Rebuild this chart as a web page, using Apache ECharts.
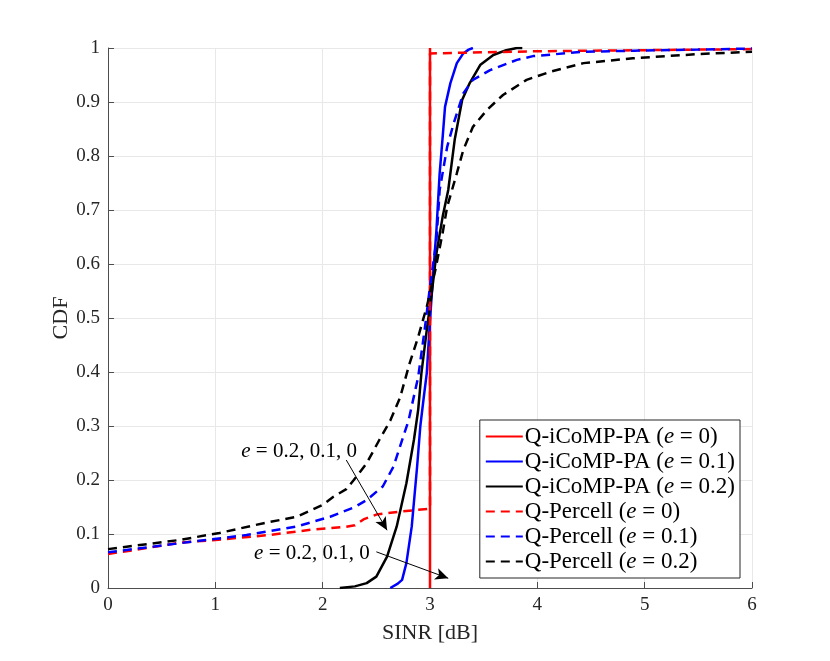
<!DOCTYPE html>
<html>
<head>
<meta charset="utf-8">
<script src="https://cdn.jsdelivr.net/npm/echarts@6/dist/echarts.min.js"></script>
<style>
  html, body { margin: 0; padding: 0; background: #fff; }
  #main { width: 830px; height: 661px; }
</style>
</head>
<body>
<div id="main"></div>
<script>
// x ticks / y ticks
const xTicks = [0, 1, 2, 3, 4, 5, 6]
const yTicks = [0, 0.1, 0.2, 0.3, 0.4, 0.5, 0.6, 0.7, 0.8, 0.9, 1]

// Q-iCoMP-PA curves [SINR dB, CDF]
const icompE0 = [[3, 0], [3, 1]]
const icompE01 = [
  [2.63, 0], [2.7, 0.008], [2.74, 0.015], [2.78, 0.046], [2.83, 0.114], [2.88, 0.225],
  [2.91, 0.3], [2.94, 0.35], [2.97, 0.398], [3.0, 0.496], [3.03, 0.583], [3.06, 0.663],
  [3.09, 0.768], [3.12, 0.84], [3.14, 0.891], [3.19, 0.935], [3.25, 0.972],
  [3.31, 0.99], [3.36, 0.997], [3.4, 1.0]
]
const icompE02 = [
  [2.16, 0], [2.3, 0.003], [2.41, 0.009], [2.5, 0.021], [2.6, 0.058], [2.69, 0.114],
  [2.78, 0.194], [2.85, 0.274], [2.89, 0.33], [2.92, 0.398], [2.97, 0.478],
  [3.02, 0.552], [3.06, 0.62], [3.12, 0.69], [3.17, 0.737], [3.23, 0.83],
  [3.3, 0.904], [3.37, 0.935], [3.47, 0.969], [3.59, 0.987], [3.71, 0.996],
  [3.81, 1.0], [3.86, 1.0]
]

// Q-Percell curves
const percellE0 = [
  [0, 0.063], [0.3, 0.072], [0.67, 0.084], [1.0, 0.089], [1.5, 0.098], [1.9, 0.108],
  [2.2, 0.113], [2.3, 0.116], [2.38, 0.127], [2.5, 0.136], [2.7, 0.141], [3.0, 0.147],
  [3.0, 0.99], [4.0, 0.994], [5.0, 0.996], [6.0, 0.998]
]
const percellE01 = [
  [0, 0.066], [0.67, 0.083], [1.29, 0.098], [1.76, 0.114], [2.07, 0.132], [2.3, 0.15],
  [2.41, 0.163], [2.56, 0.188], [2.66, 0.225], [2.75, 0.28], [2.8, 0.31], [2.89, 0.391],
  [2.95, 0.478], [3.0, 0.558], [3.06, 0.644], [3.09, 0.737], [3.16, 0.817],
  [3.22, 0.86], [3.31, 0.916], [3.4, 0.941], [3.56, 0.959], [3.81, 0.978],
  [3.96, 0.985], [4.43, 0.993], [4.9, 0.995], [5.5, 0.997], [6.0, 0.999]
]
const percellE02 = [
  [0, 0.072], [0.67, 0.089], [1.04, 0.102], [1.45, 0.12], [1.76, 0.132], [2.0, 0.154],
  [2.1, 0.169], [2.22, 0.183], [2.29, 0.2], [2.41, 0.231], [2.53, 0.275], [2.63, 0.31],
  [2.72, 0.352], [2.81, 0.416], [2.89, 0.465], [2.97, 0.521], [3.05, 0.589],
  [3.12, 0.66], [3.16, 0.706], [3.25, 0.768], [3.31, 0.811], [3.4, 0.854],
  [3.53, 0.885], [3.68, 0.913], [3.9, 0.941], [4.12, 0.956], [4.43, 0.972],
  [4.89, 0.981], [5.52, 0.989], [6.0, 0.993]
]

// annotation arrows (data coords) and text anchors
const arrow1 = [[2.22, 0.237], [2.6, 0.107]]
const arrow2 = [[2.5, 0.067], [3.17, 0.018]]
const note1 = [1.78, 0.252]
const note2 = [1.9, 0.063]

const serif = 'Liberation Serif'
const legendRich = {
  n: { fontFamily: serif, fontSize: 23, lineHeight: 23, color: '#000' },
  i: { fontFamily: serif, fontSize: 23, lineHeight: 23, fontStyle: 'italic', color: '#000' }
}

const chart = echarts.init(document.getElementById('main'))

function mkSeries(name, data, color, dashed) {
  return {
    name: name,
    type: 'line',
    data: data,
    showSymbol: false,
    symbol: 'none',
    animation: false,
    lineStyle: { color: color, width: 2.5, type: dashed ? [9, 6] : 'solid' },
    itemStyle: { color: color }
  }
}

const series = [
  mkSeries('icomp0', icompE0, '#ff0000', false),
  mkSeries('icomp1', icompE01, '#0000ff', false),
  mkSeries('icomp2', icompE02, '#000000', false),
  mkSeries('percell0', percellE0, '#ff0000', true),
  mkSeries('percell1', percellE01, '#0000ff', true),
  mkSeries('percell2', percellE02, '#000000', true)
]
// arrows on a dummy series
series.push({
  type: 'line',
  data: [],
  silent: true,
  markLine: {
    silent: true,
    animation: false,
    symbol: ['none', 'arrow'],
    symbolSize: [9, 13],
    label: { show: false },
    lineStyle: { color: '#000', width: 1, type: 'solid' },
    data: [
      [{ coord: arrow1[0] }, { coord: arrow1[1] }],
      [{ coord: arrow2[0] }, { coord: arrow2[1] }]
    ]
  }
})

const legendNames = {
  icomp0: '{n|Q-iCoMP-PA (}{i|e}{n| = 0)}',
  icomp1: '{n|Q-iCoMP-PA (}{i|e}{n| = 0.1)}',
  icomp2: '{n|Q-iCoMP-PA (}{i|e}{n| = 0.2)}',
  percell0: '{n|Q-Percell (}{i|e}{n| = 0)}',
  percell1: '{n|Q-Percell (}{i|e}{n| = 0.1)}',
  percell2: '{n|Q-Percell (}{i|e}{n| = 0.2)}'
}

chart.setOption({
  backgroundColor: '#fff',
  animation: false,
  grid: { left: 108, right: 78, top: 48, bottom: 73 },
  xAxis: {
    type: 'value',
    min: 0, max: 6, interval: 1,
    name: 'SINR [dB]',
    nameLocation: 'middle',
    nameGap: 34,
    nameMoveOverlap: false,
    nameTextStyle: { fontFamily: serif, fontSize: 22, color: '#262626' },
    axisLine: { show: true, lineStyle: { color: '#4d4d4d', width: 1 } },
    axisTick: { show: true, inside: true, length: 6, lineStyle: { color: '#4d4d4d' } },
    axisLabel: { fontFamily: serif, fontSize: 19, color: '#262626', margin: 8,
      formatter: v => xTicks.includes(v) ? String(v) : '' },
    splitLine: { show: true, lineStyle: { color: '#e8e8e8', width: 1 } }
  },
  yAxis: {
    type: 'value',
    min: 0, max: 1, interval: 0.1,
    name: 'CDF',
    nameLocation: 'middle',
    nameGap: 36,
    nameMoveOverlap: false,
    nameTextStyle: { fontFamily: serif, fontSize: 22, color: '#262626' },
    axisLine: { show: true, lineStyle: { color: '#4d4d4d', width: 1 } },
    axisTick: { show: true, inside: true, length: 6, lineStyle: { color: '#4d4d4d' } },
    axisLabel: { fontFamily: serif, fontSize: 19, color: '#262626', margin: 8,
      formatter: v => {
        const t = yTicks.find(k => Math.abs(k - v) < 1e-9)
        return t === undefined ? '' : String(t)
      } },
    splitLine: { show: true, lineStyle: { color: '#e8e8e8', width: 1 } }
  },
  legend: {
    data: Object.keys(legendNames),
    orient: 'vertical',
    right: 90,
    bottom: 83,
    itemWidth: 37,
    itemHeight: 14,
    itemGap: 2,
    padding: [5, 5, 5, 5],
    borderColor: '#262626',
    borderWidth: 1,
    backgroundColor: '#fff',
    itemStyle: { opacity: 0 },
    formatter: name => legendNames[name],
    textStyle: { rich: legendRich, padding: [0, 0, 0, -3] }
  },
  series: series
})

// annotation text, placed from data coordinates
function noteText(pt) {
  const p = chart.convertToPixel({ gridIndex: 0 }, pt)
  return {
    type: 'text',
    x: p[0], y: p[1],
    style: {
      text: '{i|e}{n| = 0.2, 0.1, 0}',
      align: 'center',
      verticalAlign: 'middle',
      rich: {
        n: { fontFamily: serif, fontSize: 21, fill: '#000' },
        i: { fontFamily: serif, fontSize: 21, fontStyle: 'italic', fill: '#000' }
      }
    },
    z: 100
  }
}
chart.setOption({ graphic: [noteText(note1), noteText(note2)] })
</script>
</body>
</html>
